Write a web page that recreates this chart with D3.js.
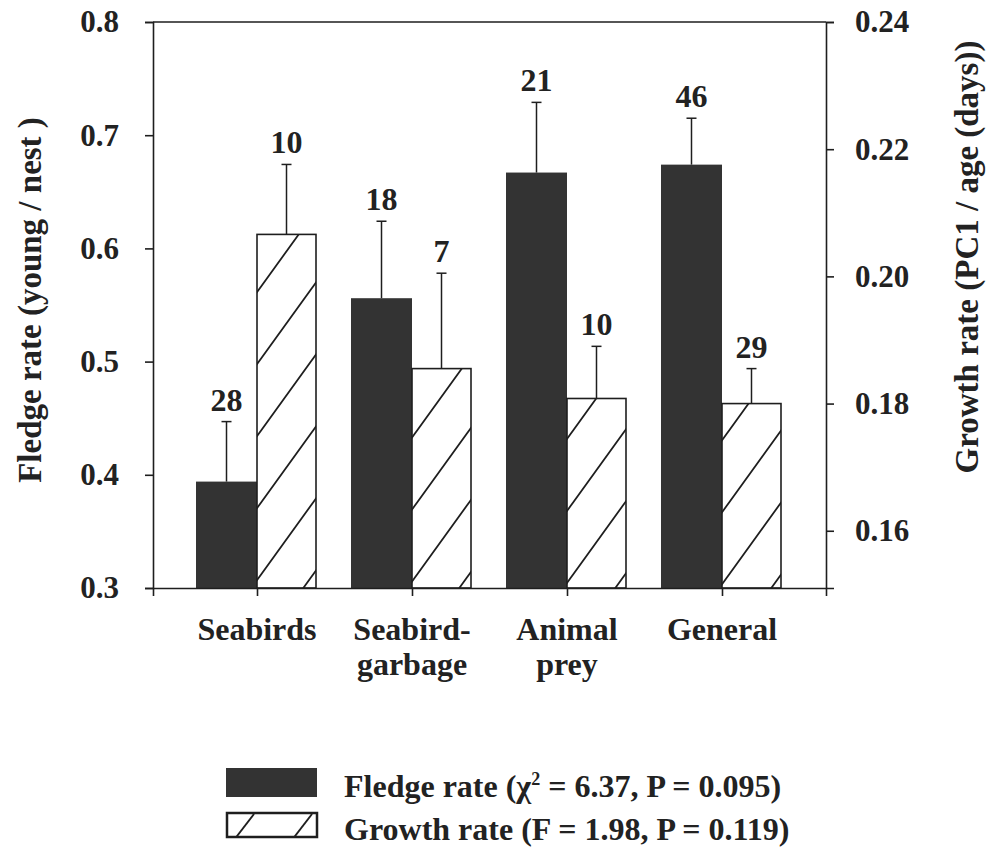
<!DOCTYPE html>
<html>
<head>
<meta charset="utf-8">
<script src="https://cdn.jsdelivr.net/npm/d3@7"></script>
<style>
  html, body { margin: 0; padding: 0; background: #fff; }
  svg { display: block; }
  text { font-family: "Liberation Serif", "Times New Roman", serif; font-weight: bold; fill: #222; }
</style>
</head>
<body>
<svg id="chart" width="996" height="851"></svg>
<script>
// ---- data ----
const categories = ["Seabirds", "Seabird-\ngarbage", "Animal\nprey", "General"];
const fledgeMean = [0.394, 0.556, 0.667, 0.674];
const fledgeErr  = [0.053, 0.068, 0.062, 0.041];
const fledgeN    = [28, 18, 21, 46];
const growthMean = [0.2066, 0.1855, 0.1808, 0.1800];
const growthErr  = [0.0110, 0.0150, 0.0082, 0.0055];
const growthN    = [10, 7, 10, 29];
const leftTicks  = [0.3, 0.4, 0.5, 0.6, 0.7, 0.8];
const rightTicks = [0.16, 0.18, 0.20, 0.22, 0.24];
const leftTitle  = "Fledge rate (young / nest )";
const rightTitle = "Growth rate (PC1 / age (days))";
const legendItems = [
  { key: "fledge", label: "Fledge rate (\u03C7", sup: "2", rest: " = 6.37, P = 0.095)" },
  { key: "growth", label: "Growth rate (F = 1.98, P = 0.119)", sup: "", rest: "" }
];

// ---- layout ----
const svg = d3.select("#chart");
const L = 153, R = 826, T = 22, B = 588;
const barW = 61;
const ink = "#1e1e1e";
const dark = "#333333";

const x = d3.scalePoint().domain(categories).range([L, R]).padding(0.671);
const yL = d3.scaleLinear().domain([0.3, 0.8]).range([B, T]);
const yR = d3.scaleLinear().domain([0.151, 0.24]).range([B, T]);

// hatch pattern
const defs = svg.append("defs");
const pat = defs.append("pattern").attr("id", "hatch")
  .attr("patternUnits", "userSpaceOnUse").attr("width", 52).attr("height", 72);
pat.append("rect").attr("width", 52).attr("height", 72).attr("fill", "#fff");
pat.append("path").attr("d", "M0,72L52,0M-5,6.9L5,-6.9M47,78.9L57,65.1")
  .attr("stroke", ink).attr("stroke-width", 1.8).attr("fill", "none");

const pat2 = defs.append("pattern").attr("id", "hatch2")
  .attr("patternUnits", "userSpaceOnUse").attr("width", 58).attr("height", 30)
  .attr("x", 226).attr("y", 812);
pat2.append("rect").attr("width", 58).attr("height", 30).attr("fill", "#fff");
pat2.append("path").attr("d", "M8,28L28,2")
  .attr("stroke", ink).attr("stroke-width", 2).attr("fill", "none");

// ---- bars ----
const g = svg.append("g");
g.selectAll("rect.fledge").data(categories).join("rect")
  .attr("class", "fledge")
  .attr("x", d => x(d) - barW)
  .attr("y", (d, i) => yL(fledgeMean[i]))
  .attr("width", barW)
  .attr("height", (d, i) => B - yL(fledgeMean[i]))
  .attr("fill", dark);
g.selectAll("rect.growth").data(categories).join("rect")
  .attr("class", "growth")
  .attr("x", d => x(d))
  .attr("y", (d, i) => yR(growthMean[i]))
  .attr("width", barW - 2)
  .attr("height", (d, i) => B - yR(growthMean[i]))
  .attr("fill", "url(#hatch)")
  .attr("stroke", ink).attr("stroke-width", 1.6);

// error bars
function errBars(cls, cx, mean, err, scale, n) {
  const eg = g.selectAll("g." + cls).data(categories).join("g").attr("class", cls);
  eg.append("line")
    .attr("x1", d => cx(d)).attr("x2", d => cx(d))
    .attr("y1", (d, i) => scale(mean[i])).attr("y2", (d, i) => scale(mean[i] + err[i]))
    .attr("stroke", ink).attr("stroke-width", 1.5);
  eg.append("line")
    .attr("x1", d => cx(d) - 5).attr("x2", d => cx(d) + 5)
    .attr("y1", (d, i) => scale(mean[i] + err[i])).attr("y2", (d, i) => scale(mean[i] + err[i]))
    .attr("stroke", ink).attr("stroke-width", 1.5);
  eg.append("text")
    .attr("x", d => cx(d)).attr("y", (d, i) => scale(mean[i] + err[i]) - 11)
    .attr("text-anchor", "middle").attr("font-size", 32)
    .text((d, i) => n[i]);
}
errBars("efl", d => x(d) - barW / 2, fledgeMean, fledgeErr, yL, fledgeN);
errBars("egr", d => x(d) + barW / 2 - 1, growthMean, growthErr, yR, growthN);

// ---- axes ----
const axL = svg.append("g").attr("transform", `translate(${L},0)`)
  .call(d3.axisLeft(yL).tickValues(leftTicks).tickFormat(d3.format(".1f")).tickSize(8).tickPadding(26));
const axR = svg.append("g").attr("transform", `translate(${R},0)`)
  .call(d3.axisRight(yR).tickValues(rightTicks).tickFormat(d3.format(".2f")).tickSize(8).tickPadding(21));
const axB = svg.append("g").attr("transform", `translate(0,${B})`)
  .call(d3.axisBottom(x).tickSize(8).tickSizeOuter(8).tickFormat(""));
[axL, axR, axB].forEach(a => {
  a.selectAll("path, line").attr("stroke", ink).attr("stroke-width", 1.6);
  a.selectAll("text").attr("font-size", 31).attr("fill", "#222")
    .attr("font-family", "Liberation Serif").attr("font-weight", "bold");
});
svg.append("line").attr("x1", L).attr("x2", R).attr("y1", T).attr("y2", T)
  .attr("stroke", ink).attr("stroke-width", 1.6);

// category labels
const cl = svg.append("g").selectAll("text").data(categories).join("text")
  .attr("text-anchor", "middle").attr("font-size", 32)
  .attr("x", d => x(d)).attr("y", 640);
cl.each(function(d) {
  const lines = d.split("\n");
  d3.select(this).selectAll("tspan").data(lines).join("tspan")
    .attr("x", x(d)).attr("dy", (l, j) => j === 0 ? 0 : 35).text(l => l);
});

// axis titles
svg.append("text").attr("transform", `translate(41,${(T + B) / 2 - 5}) rotate(-90)`)
  .attr("text-anchor", "middle").attr("font-size", 33).text(leftTitle);
svg.append("text").attr("transform", `translate(978,${(T + B) / 2 - 48}) rotate(-90)`)
  .attr("text-anchor", "middle").attr("font-size", 33).text(rightTitle);

// ---- legend ----
const lg = svg.append("g");
lg.append("rect").attr("x", 226).attr("y", 768).attr("width", 91).attr("height", 29).attr("fill", dark);
lg.append("rect").attr("x", 227).attr("y", 813).attr("width", 90).attr("height", 24)
  .attr("fill", "url(#hatch2)").attr("stroke", ink).attr("stroke-width", 2.5);
const t1 = lg.append("text").attr("x", 344).attr("y", 797).attr("font-size", 32);
t1.append("tspan").text(legendItems[0].label);
t1.append("tspan").attr("dy", -12).attr("font-size", 18).text(legendItems[0].sup);
t1.append("tspan").attr("dy", 12).text(legendItems[0].rest);
lg.append("text").attr("x", 344).attr("y", 840).attr("font-size", 32).text(legendItems[1].label);
</script>
</body>
</html>
